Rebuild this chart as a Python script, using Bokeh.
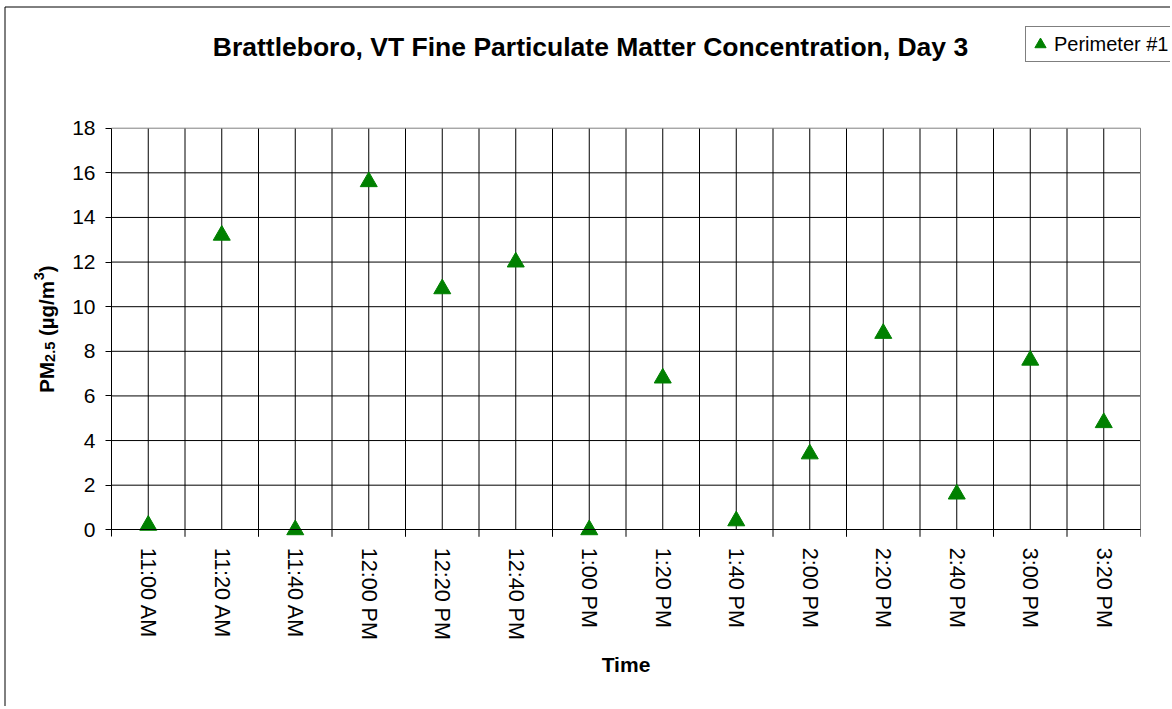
import math
from bokeh.plotting import figure
from bokeh.models import (Range1d, FixedTicker, Label, Legend, LegendItem,
                          ColumnDataSource)
from bokeh.embed import file_html
from bokeh.resources import INLINE

# ---------------- data ----------------
times = ["11:00 AM", "11:20 AM", "11:40 AM", "12:00 PM", "12:20 PM", "12:40 PM",
         "1:00 PM", "1:20 PM", "1:40 PM", "2:00 PM", "2:20 PM", "2:40 PM",
         "3:00 PM", "3:20 PM"]
pm25 = [0.2, 13.2, 0.0, 15.6, 10.8, 12.0, 0.0, 6.8, 0.4, 3.4, 8.8, 1.6, 7.6, 4.8]
y_ticks = [0, 2, 4, 6, 8, 10, 12, 14, 16, 18]
series_name = "Perimeter #1"
title_text = "Brattleboro, VT Fine Particulate Matter Concentration, Day 3"
x_title = "Time"
y_title_parts = [("PM", "main"), ("2.5", "sub"), (" (\u00b5g/m", "main"), ("3", "sup"), (")", "main")]

FONT = "Liberation Sans"
GREEN = "#008000"
GRAY = "#808080"

# ---------------- layout (pixel geometry of the page) ----------------
W, H = 1170, 706
n = len(times)
xs = list(range(n))
Y_TOP = y_ticks[-1]
X_LEFT_PX, X_RIGHT_PX = 111.0, 1140.0
Y0_PX, YTOP_PX = 529.3, 127.7
PX_X = (X_RIGHT_PX - X_LEFT_PX) / n
PX_Y = (Y0_PX - YTOP_PX) / Y_TOP
x_start = -0.5 - X_LEFT_PX / PX_X
x_end = x_start + W / PX_X
y_end = Y_TOP + YTOP_PX / PX_Y
y_start = y_end - H / PX_Y


def dx(px):
    return x_start + px / PX_X


def dy(py):
    return y_end - py / PX_Y


y_lo = dy(Y0_PX + 7)          # tick strip below zero
x_lo, x_hi = -0.5, n - 0.5

p = figure(width=W, height=H, output_backend="svg", toolbar_location=None,
           x_range=Range1d(x_start, x_end), y_range=Range1d(y_start, y_end),
           min_border_left=0, min_border_right=0, min_border_top=0, min_border_bottom=0)
p.title = None
p.outline_line_color = None
p.background_fill_color = "white"
p.border_fill_color = "white"
p.xgrid.visible = False
p.ygrid.visible = False

# outer chart border (left and top edges)
p.segment(x0=[dx(4.5), dx(4.5)], y0=[dy(6.5), dy(6.5)], x1=[dx(4.5), x_end], y1=[y_start, dy(6.5)],
          line_color="black", line_width=1)

# x axis (category axis at y = 0)
xa = p.xaxis[0]
xa.fixed_location = 0
xa.bounds = (x_lo, x_hi)
xa.ticker = FixedTicker(ticks=xs)
xa.major_label_overrides = {i: t for i, t in enumerate(times)}
xa.major_label_orientation = -math.pi / 2
xa.major_tick_out = 0
xa.major_tick_in = 0
xa.minor_tick_out = 0
xa.minor_tick_in = 0
xa.axis_line_color = "black"
xa.major_label_standoff = 18
xa.major_label_text_font = FONT
xa.major_label_text_font_size = "21.5px"
xa.major_label_text_color = "black"
xa.axis_label = x_title
xa.axis_label_text_font = FONT
xa.axis_label_text_font_style = "bold"
xa.axis_label_text_font_size = "21px"
xa.axis_label_text_color = "black"
xa.axis_label_standoff = 10

# y axis
ya = p.yaxis[0]
ya.fixed_location = x_lo
ya.bounds = (y_lo, Y_TOP)
ya.ticker = FixedTicker(ticks=y_ticks)
ya.major_tick_out = 6
ya.major_tick_in = 0
ya.minor_tick_out = 0
ya.minor_tick_in = 0
ya.major_tick_line_color = "black"
ya.axis_line_color = "black"
ya.major_label_standoff = 10
ya.major_label_text_font = FONT
ya.major_label_text_font_size = "21px"
ya.major_label_text_color = "black"

# vertical lines at category boundaries (extend into tick strip) and centres
bounds_x = [k - 0.5 for k in range(1, n)]
p.segment(x0=bounds_x, y0=[y_lo] * len(bounds_x), x1=bounds_x, y1=[Y_TOP] * len(bounds_x),
          line_color="black", line_width=1)
p.segment(x0=xs, y0=[0] * n, x1=xs, y1=[Y_TOP] * n, line_color="black", line_width=1)
# horizontal gridlines
hg = y_ticks[1:-1]
p.segment(x0=[x_lo] * len(hg), y0=hg, x1=[x_hi] * len(hg), y1=hg, line_color="black", line_width=1)
# plot-area border (top and right, gray)
p.segment(x0=[x_lo, x_hi], y0=[Y_TOP, y_lo], x1=[x_hi, x_hi], y1=[Y_TOP, Y_TOP],
          line_color=GRAY, line_width=1)

# data
src = ColumnDataSource(dict(x=xs, y=pm25, t=times))
r = p.scatter("x", "y", source=src, marker="triangle", size=17,
              fill_color=GREEN, line_color=GREEN)

# legend (box top-left near page px 1025, 28; height 34)
legend = Legend(items=[LegendItem(label=series_name, renderers=[r])],
                location=(1025, H - 62),
                padding=0, spacing=0, margin=0,
                glyph_width=28, glyph_height=34, label_standoff=0, label_width=130,
                label_text_font=FONT, label_text_font_size="20px",
                label_text_color="black",
                border_line_color="black", border_line_width=1,
                background_fill_color="white", background_fill_alpha=1)
p.add_layout(legend)

# chart title
p.add_layout(Label(x=dx(590), y=dy(46), text=title_text, text_font=FONT,
                   text_font_style="bold", text_font_size="26.5px", text_align="center",
                   text_baseline="alphabetic", text_color="black"))

# y axis title, built from pieces (subscript / superscript)
adv = {"P": 667, "M": 833, "2": 556, ".": 278, "5": 556, " ": 278, "(": 333,
       "\u00b5": 611, "g": 611, "/": 278, "m": 889, "3": 556, ")": 333}
sizes = {"main": 20.5, "sub": 14.5, "sup": 14.5}
shift = {"main": 0, "sub": 3, "sup": -8}
BASE_X = 46
mid_py = (Y0_PX + YTOP_PX) / 2
widths = [sum(adv[c] for c in s) / 1000 * sizes[k] for s, k in y_title_parts]
pos_py = mid_py + sum(widths) / 2
for (s, k), w in zip(y_title_parts, widths):
    lead = len(s) - len(s.lstrip(" "))
    start_py = pos_py - lead * adv[" "] / 1000 * sizes[k]
    p.add_layout(Label(x=dx(BASE_X + shift[k]), y=dy(start_py), text=s.lstrip(" "),
                       angle=math.pi / 2, text_font=FONT, text_font_style="bold",
                       text_font_size=f"{sizes[k]}px", text_align="left",
                       text_baseline="alphabetic", text_color="black"))
    pos_py -= w

open("out.html", "w").write(file_html(p, INLINE))
